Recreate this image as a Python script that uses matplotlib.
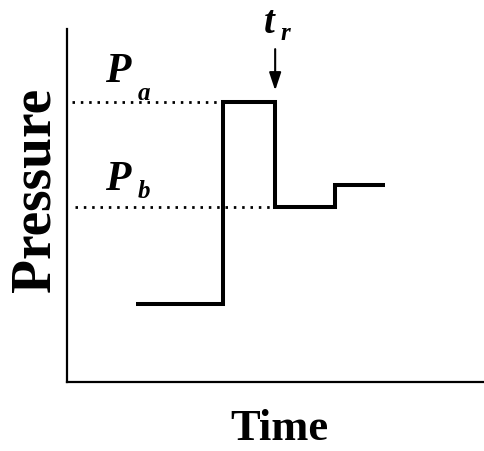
import numpy as np
import matplotlib
matplotlib.use("Agg")
import matplotlib.pyplot as plt

plt.rcParams["font.family"] = "Liberation Serif"

# %% data (arbitrary units, axes run 0..100)
time_edges = [16.5, 37.3, 49.8, 64.1, 76.1]
pressure_levels = [22.1, 79.3, 49.6, 55.8]
p_a = 79.3
p_b = 49.6
t_r = 49.8

# %% figure
fig = plt.figure(figsize=(4.85, 4.52), dpi=100)
ax = fig.add_axes([67 / 485, 69 / 452, 418 / 485, 353 / 452])
ax.set_xlim(0, 100)
ax.set_ylim(0, 100)

ax.stairs(pressure_levels, time_edges, baseline=None, color="black", lw=2.9)

# dotted reference levels
ax.plot([1.2, time_edges[1]], [p_a, p_a], color="black", lw=2.0, ls=(0, (0.9, 2.1)))
ax.plot([1.9, t_r], [p_b, p_b], color="black", lw=2.0, ls=(0, (0.9, 2.1)))

# labels for levels (main letter + subscript)
lab = dict(fontweight="bold", fontstyle="italic", ha="left", va="baseline")
ax.text(9.1, 85.3, "P", fontsize=30, **lab)
ax.text(17.0, 80.2, "a", fontsize=18, **lab)
ax.text(9.1, 54.7, "P", fontsize=30, **lab)
ax.text(17.0, 52.4, "b", fontsize=18, **lab)

# t_r marker
ax.annotate("", xy=(t_r, 82.6), xytext=(t_r, 94.3),
            arrowprops=dict(arrowstyle="-|>,head_length=0.9,head_width=0.3",
                            color="black", lw=1.5, mutation_scale=12,
                            shrinkA=0, shrinkB=0),
            annotation_clip=False)
ax.text(47.2, 99.2, "t", fontsize=28, clip_on=False, **lab)
ax.text(51.0, 97.2, "r", fontsize=18, clip_on=False, **lab)

ax.spines["top"].set_visible(False)
ax.spines["right"].set_visible(False)
ax.spines["left"].set_linewidth(1.6)
ax.spines["bottom"].set_linewidth(1.6)
ax.set_xticks([])
ax.set_yticks([])

fig.text(279 / 485, 12 / 452, "Time", fontsize=32, fontweight="bold",
         ha="center", va="baseline")
fig.text(50 / 485, 262 / 452, "Pressure", fontsize=40, fontweight="bold",
         rotation=90, rotation_mode="anchor", ha="center", va="baseline")

plt.savefig("out.png", dpi=100)
